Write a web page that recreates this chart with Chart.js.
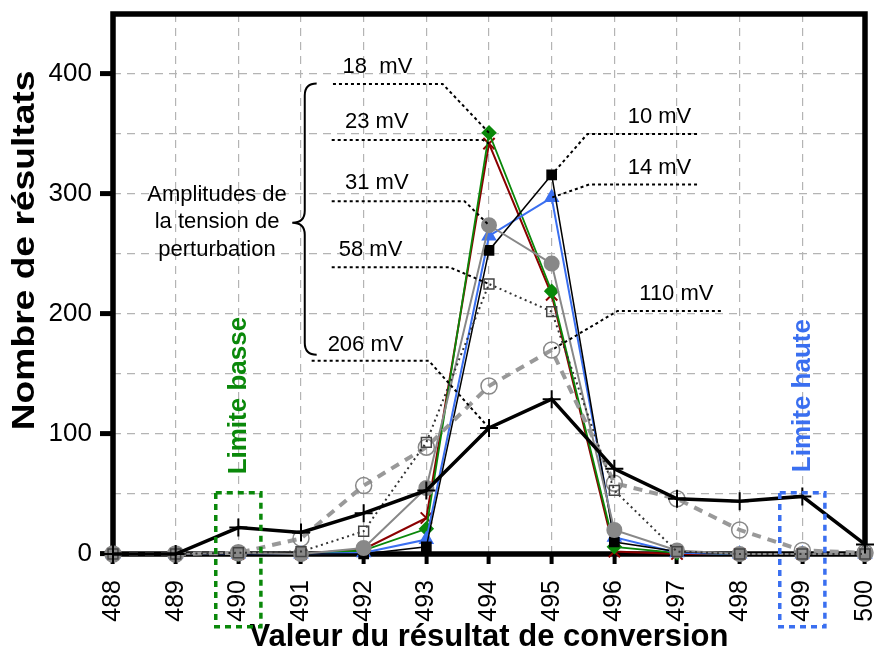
<!DOCTYPE html>
<html lang="fr">
<head>
<meta charset="utf-8">
<title>Nombre de résultats par valeur de conversion</title>
<script src="https://cdn.jsdelivr.net/npm/chart.js@4.4.0/dist/chart.umd.min.js"></script>
<style>
  html, body { margin: 0; padding: 0; background: #fff; }
  #wrap { width: 876px; height: 653px; }
</style>
</head>
<body>
<div id="wrap"><canvas id="conversionChart" width="876" height="653"></canvas></div>
<script>
// --- DONNEES ---
const codes = [488, 489, 490, 491, 492, 493, 494, 495, 496, 497, 498, 499, 500];
const yLabels = [0, 100, 200, 300, 400];

const res10mV  = [0, 0, 0, 0, 0,  6, 253, 316, 10,  2,  0,  0, 0];
const res14mV  = [0, 0, 0, 0, 1, 12, 265, 297, 14,  1,  0,  0, 0];
const res18mV  = [0, 0, 0, 0, 3, 21, 351, 219,  6,  1,  0,  0, 0];
const res23mV  = [0, 0, 0, 0, 4, 30, 342, 216,  2,  0,  0,  0, 0];
const res31mV  = [0, 0, 1, 0, 5, 55, 274, 242, 20,  3,  0,  0, 0];
const res58mV  = [0, 0, 1, 2, 19, 93, 225, 202, 53, 2,  0,  0, 0];
const res110mV = [0, 0, 1, 13, 57, 89, 140, 170, 59, 46, 20, 3, 1];
const res206mV = [0, 0, 22, 18, 34, 53, 105, 129, 71, 46, 44, 48, 8];

const FONT = 'Arial, "Liberation Sans", sans-serif';
const BLUE = '#3a6ff0';
const GREEN = '#0a880a';
const DARKRED = '#8b0000';
const GREY = '#888888';

// Etiquettes des amplitudes + lignes de rappel (unites des axes)
const leaders = [
    { text: '18  mV', serie: '18 mV',  at: 494, tx: 492.22, ty: 406, from: [491.51, 391.7], elbow: [493.26, 391.7] },
    { text: '23 mV',  serie: '23 mV',  at: 494, tx: 492.21, ty: 360, from: [491.49, 345],   elbow: [493.90, 345] },
    { text: '31 mV',  serie: '31 mV',  at: 494, tx: 492.21, ty: 309, from: [491.49, 294],   elbow: [493.61, 294] },
    { text: '58 mV',  serie: '58 mV',  at: 494, tx: 492.11, ty: 253, from: [491.49, 239],   elbow: [493.37, 239] },
    { text: '206 mV', serie: '206 mV', at: 494, tx: 492.03, ty: 174, from: [491.17, 161],   elbow: [493.04, 161] },
    { text: '10 mV',  serie: '10 mV',  at: 495, tx: 496.72, ty: 364, from: [497.32, 350],   elbow: [495.57, 350] },
    { text: '14 mV',  serie: '14 mV',  at: 495, tx: 496.72, ty: 322, from: [497.32, 308],   elbow: [495.60, 308] },
    { text: '110 mV', serie: '110 mV', at: 495, tx: 496.99, ty: 217, from: [497.70, 202.5], elbow: [496.05, 202.5] }
];

function serie(label, values, style) {
    return Object.assign({
        label: label,
        data: codes.map((c, i) => ({ x: c, y: values[i] })),
        tension: 0,
        clip: false
    }, style);
}

// --- PLUGIN : cadre, titres, annotations ---
const annotationsPlugin = {
    id: 'annotations',
    beforeDatasetsDraw(chart) {
        const { ctx, chartArea: a } = chart;
        ctx.save();
        ctx.lineWidth = 5.5;
        ctx.strokeStyle = '#000';
        ctx.strokeRect(a.left, a.top, a.right - a.left, a.bottom - a.top);
        ctx.restore();
    },
    afterDraw(chart) {
        const { ctx } = chart;
        const xs = chart.scales.x;
        const ys = chart.scales.y;
        const px = v => xs.getPixelForValue(v);
        const py = v => ys.getPixelForValue(v);

        ctx.save();

        // Titre axe Y (police un peu etiree comme l'original)
        ctx.save();
        ctx.translate(34, py(253));
        ctx.rotate(-Math.PI / 2);
        ctx.scale(1.2, 1);
        ctx.font = 'bold 31px ' + FONT;
        ctx.fillStyle = '#000';
        ctx.textAlign = 'center';
        ctx.textBaseline = 'alphabetic';
        ctx.fillText('Nombre de résultats', 0, 0);
        ctx.restore();

        // Lignes de rappel
        ctx.lineWidth = 2;
        ctx.strokeStyle = '#000';
        ctx.setLineDash([3, 3]);
        leaders.forEach(l => {
            const idx = chart.data.datasets.findIndex(d => d.label === l.serie);
            const pt = chart.getDatasetMeta(idx).data[codes.indexOf(l.at)];
            ctx.beginPath();
            ctx.moveTo(px(l.from[0]), py(l.from[1]));
            ctx.lineTo(px(l.elbow[0]), py(l.elbow[1]));
            ctx.lineTo(pt.x, pt.y);
            ctx.stroke();
        });
        ctx.setLineDash([]);

        ctx.font = '22px ' + FONT;
        ctx.fillStyle = '#000';
        ctx.textAlign = 'center';
        ctx.textBaseline = 'middle';
        leaders.forEach(l => ctx.fillText(l.text, px(l.tx), py(l.ty)));

        // Accolade
        const bx = px(491.06), tip = px(490.86), ends = px(491.25);
        const top = py(392), mid = py(276), bot = py(166);
        ctx.lineWidth = 2;
        ctx.beginPath();
        ctx.moveTo(ends, top);
        ctx.quadraticCurveTo(bx, top, bx, top + 12);
        ctx.lineTo(bx, mid - 12);
        ctx.quadraticCurveTo(bx, mid, tip, mid);
        ctx.quadraticCurveTo(bx, mid, bx, mid + 12);
        ctx.lineTo(bx, bot - 12);
        ctx.quadraticCurveTo(bx, bot, ends, bot);
        ctx.stroke();

        ctx.font = '22px ' + FONT;
        ctx.fillText('Amplitudes de', px(489.66), py(299));
        ctx.fillText('la tension de', px(489.66), py(276.5));
        ctx.fillText('perturbation', px(489.66), py(253.5));

        // Limites
        const limits = [
            { text: 'Limite basse', at: 490, color: GREEN },
            { text: 'Limite haute', at: 499, color: BLUE }
        ];
        limits.forEach(lim => {
            ctx.save();
            ctx.translate(px(lim.at), py(132));
            ctx.rotate(-Math.PI / 2);
            ctx.font = 'bold 26px ' + FONT;
            ctx.fillStyle = lim.color;
            ctx.textAlign = 'center';
            ctx.textBaseline = 'middle';
            ctx.fillText(lim.text, 0, 0);
            ctx.restore();

            ctx.save();
            ctx.strokeStyle = lim.color;
            ctx.lineWidth = 3.5;
            ctx.setLineDash([6, 5]);
            const x0 = px(lim.at - 0.36), x1 = px(lim.at + 0.36);
            ctx.strokeRect(x0, py(51), x1 - x0, 134);
            ctx.restore();
        });

        ctx.restore();
    }
};

// --- GRAPHIQUE ---
document.addEventListener('DOMContentLoaded', function() {
    const ctx = document.getElementById('conversionChart');

    // l'index 0 est dessine au-dessus des autres
    new Chart(ctx.getContext('2d'), {
        type: 'line',
        data: {
            datasets: [
                serie('206 mV', res206mV, {
                    borderColor: '#000', borderWidth: 3.5,
                    pointStyle: 'cross', pointRadius: 9, pointBorderWidth: 2,
                    pointBorderColor: '#000', pointBackgroundColor: '#000'
                }),
                serie('58 mV', res58mV, {
                    borderColor: '#333', borderWidth: 2, borderDash: [2, 3.5],
                    pointStyle: 'rect', pointRadius: 7, pointBorderWidth: 1.5,
                    pointBorderColor: '#444', pointBackgroundColor: 'rgba(255,255,255,0)'
                }),
                serie('110 mV', res110mV, {
                    borderColor: '#999', borderWidth: 4, borderDash: [9, 7],
                    pointStyle: 'circle', pointRadius: 8, pointBorderWidth: 1.5,
                    pointBorderColor: GREY, pointBackgroundColor: 'rgba(255,255,255,0)'
                }),
                serie('31 mV', res31mV, {
                    borderColor: GREY, borderWidth: 2,
                    pointStyle: 'circle', pointRadius: 7,
                    pointBorderColor: GREY, pointBackgroundColor: GREY
                }),
                serie('10 mV', res10mV, {
                    borderColor: '#000', borderWidth: 1.5,
                    pointStyle: 'rect', pointRadius: 6.5,
                    pointBorderColor: '#000', pointBackgroundColor: '#000'
                }),
                serie('14 mV', res14mV, {
                    borderColor: BLUE, borderWidth: 2,
                    pointStyle: 'triangle', pointRadius: 7,
                    pointBorderColor: BLUE, pointBackgroundColor: BLUE
                }),
                serie('18 mV', res18mV, {
                    borderColor: GREEN, borderWidth: 1.8,
                    pointStyle: 'rectRot', pointRadius: 6.5,
                    pointBorderColor: GREEN, pointBackgroundColor: GREEN
                }),
                serie('23 mV', res23mV, {
                    borderColor: DARKRED, borderWidth: 2,
                    pointStyle: 'crossRot', pointRadius: 8, pointBorderWidth: 2,
                    pointBorderColor: DARKRED, pointBackgroundColor: DARKRED
                })
            ]
        },
        options: {
            responsive: false,
            animation: false,
            devicePixelRatio: 1,
            layout: { padding: { top: 14, right: 9, left: 0, bottom: 0 } },
            plugins: {
                legend: { display: false },
                tooltip: { enabled: false }
            },
            scales: {
                x: {
                    type: 'linear',
                    min: 488,
                    max: 500,
                    afterFit: function(scale) {
                        scale.height = 99;
                        scale.paddingLeft = 0;
                        scale.paddingRight = 0;
                    },
                    ticks: {
                        stepSize: 1,
                        autoSkip: false,
                        minRotation: 90,
                        maxRotation: 90,
                        padding: 16,
                        color: '#000',
                        font: { family: FONT, size: 25 },
                        callback: v => String(v)
                    },
                    grid: {
                        color: '#b4b4b4',
                        lineWidth: 1.2,
                        tickLength: 10,
                        tickWidth: 4,
                        tickColor: '#000',
                        tickBorderDash: []
                    },
                    border: { display: false, dash: [8, 6] },
                    title: {
                        display: true,
                        text: 'Valeur du résultat de conversion',
                        color: '#000',
                        padding: { top: 0, bottom: 0 },
                        font: { family: FONT, size: 31, weight: 'bold', lineHeight: 1.0 }
                    }
                },
                y: {
                    min: 0,
                    max: 450,
                    afterFit: function(scale) {
                        scale.width = 113;
                        scale.paddingTop = 0;
                        scale.paddingBottom = 0;
                    },
                    ticks: {
                        stepSize: 50,
                        padding: 8,
                        color: '#000',
                        font: { family: FONT, size: 26 },
                        callback: v => yLabels.includes(v) ? String(v) : ''
                    },
                    grid: {
                        color: '#b4b4b4',
                        lineWidth: 1.2,
                        tickLength: 13,
                        tickWidth: 5,
                        tickColor: c => yLabels.includes(c.tick && c.tick.value) ? '#000' : 'rgba(0,0,0,0)',
                        tickBorderDash: []
                    },
                    border: { display: false, dash: [8, 6] }
                }
            }
        },
        plugins: [annotationsPlugin]
    });
});
</script>
</body>
</html>
